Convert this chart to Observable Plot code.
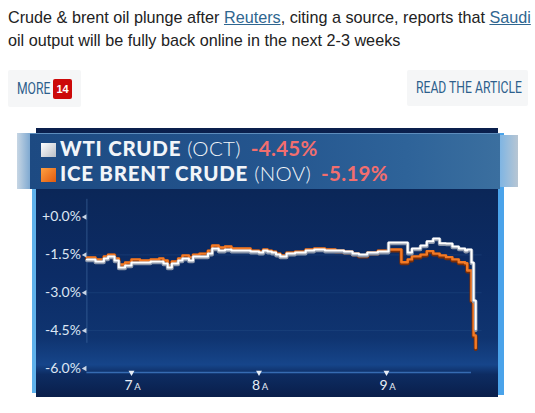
<!DOCTYPE html>
<html>
<head>
<meta charset="utf-8">
<script src="https://cdn.jsdelivr.net/npm/d3@7"></script>
<script src="https://cdn.jsdelivr.net/npm/@observablehq/plot@0.6"></script>
<style>
  html, body { margin: 0; padding: 0; background: #ffffff; }
  #page { position: relative; width: 535px; height: 413px; overflow: hidden; font-family: "Liberation Sans", Arial, sans-serif; }
  #headline { position: absolute; left: 8px; top: 6px; width: 525px; font-size: 16.2px; line-height: 23px; color: #222; }
  #headline a { color: #2f6690; text-decoration: underline; }
  .btn { position: absolute; background: #f5f6f7; border-radius: 2px; }
  .btn span.lbl { position: absolute; white-space: nowrap; font-family: Roboto, "Liberation Sans", sans-serif; color: #2d5f8c; font-size: 16px; transform: scaleX(0.76); transform-origin: 0 50%; }
  #badge { position: absolute; left: 45px; top: 9px; width: 19px; height: 20px; background: #cc0a0a; border-radius: 2px; color: #fff; font-family: "Liberation Sans", Arial, sans-serif; font-weight: bold; font-size: 11px; line-height: 20px; text-align: center; }
  #panel { position: absolute; left: 36px; top: 128px; width: 462px; height: 269px;
    background: linear-gradient(to bottom, #0a1f4c 0%, #0b2759 25%, #0c2c66 55%, #0f3470 78%, #16458a 88%, #0d2c62 91.5%, #0a1f4b 100%); }
  #lstrip { position: absolute; left: 32px; top: 188px; width: 4px; height: 205px; background: #5fb2ec; }
  #rstrip { position: absolute; left: 498px; top: 133px; width: 6px; height: 262px; background: #4aa3ea; }
  #banner { position: absolute; left: 30px; top: 133px; width: 470px; height: 56px;
    background: linear-gradient(to right, #1d4a82 0%, #24558e 50%, #2e6399 80%, #3b6f9f 100%);
    border-top: 1px solid #5d8dbd; box-sizing: border-box; }
  #lcap { position: absolute; left: 17px; top: 133px; width: 13px; height: 56px; background: linear-gradient(to right, #c7d6e4, #7fa9d1); }
  #rcap { position: absolute; left: 500px; top: 135px; width: 18px; height: 52px; background: linear-gradient(to right, #7fb5e3, #b8c6d3); }
  .bline { position: absolute; left: 41px; white-space: nowrap; font-family: Lato, "Open Sans", sans-serif; font-size: 20.5px; color: #f2f5f9; height: 24px; line-height: 24px; }
  .sq { display: inline-block; width: 15px; height: 14px; vertical-align: -1px; margin-right: 4px; }
  .b { font-weight: 900; letter-spacing: 0.75px; }
  .l { font-weight: 300; margin-left: 6px; letter-spacing: 0.3px; }
  .pct { font-weight: 700; color: #f26e6e; margin-left: 10px; letter-spacing: 0.3px; }
  #chart { position: absolute; left: 36px; top: 190px; }
</style>
</head>
<body>
<div id="page">
  <div id="headline">Crude &amp; brent oil plunge after <a>Reuters</a>, citing a source, reports that <a>Saudi</a> oil output will be fully back online in the next 2-3 weeks</div>
  <div class="btn" style="left:8px; top:70px; width:73px; height:37px;"><span class="lbl" style="left:9px; top:9px;">MORE</span><div id="badge">14</div></div>
  <div class="btn" style="left:407px; top:70px; width:121px; height:36px;"><span class="lbl" style="left:9px; top:8px;">READ THE ARTICLE</span></div>

  <div id="panel"></div>
  <div id="lstrip"></div>
  <div id="rstrip"></div>
  <div id="lcap"></div>
  <div id="banner"></div>
  <div id="rcap"></div>
  <div class="bline" style="top:136px;"><span class="sq" style="background:linear-gradient(135deg,#ffffff,#b9bec6);"></span><span class="b">WTI CRUDE</span><span class="l">(OCT)</span><span class="pct">-4.45%</span></div>
  <div class="bline" style="top:161px;"><span class="sq" style="background:linear-gradient(135deg,#ffa040,#e05a10);"></span><span class="b">ICE BRENT CRUDE</span><span class="l">(NOV)</span><span class="pct">-5.19%</span></div>
  <div id="chart"></div>
</div>
<script>
// ---- data (percent change) ----
const times = ["6:39","6:43","6:47","6:49","6:52","6:54","6:57","7:00","7:04","7:09",
               "7:13","7:15","7:17","7:19","7:22","7:24","7:27","7:29","7:32","7:36",
               "7:38","7:41","7:44","7:47","7:51","7:56","8:00","8:02","8:04","8:06",
               "8:08","8:10","8:13","8:17","8:22","8:26","8:31","8:36","8:40","8:44",
               "8:47","8:51","8:56","9:01","9:04","9:07","9:10","9:12","9:16","9:19",
               "9:22","9:25","9:28","9:31","9:34","9:37","9:38","9:40","9:41","9:42"];
const brent = [-1.60,-1.68,-1.56,-1.49,-1.64,-1.88,-1.80,-1.68,-1.72,-1.68,
               -1.64,-1.72,-1.92,-1.76,-1.64,-1.52,-1.60,-1.49,-1.45,-1.33,
               -1.13,-1.21,-1.17,-1.25,-1.25,-1.33,-1.37,-1.29,-1.33,-1.37,
               -1.45,-1.52,-1.41,-1.37,-1.29,-1.25,-1.29,-1.33,-1.37,-1.45,
               -1.52,-1.41,-1.33,-1.29,-1.29,-1.79,-1.68,-1.56,-1.49,-1.35,
               -1.45,-1.52,-1.59,-1.68,-1.79,-1.83,-2.12,-3.31,-4.69,-5.19];
const wti   = [-1.68,-1.76,-1.64,-1.56,-1.72,-2.00,-1.92,-1.80,-1.80,-1.76,
               -1.76,-1.84,-2.00,-1.84,-1.72,-1.64,-1.72,-1.56,-1.56,-1.45,
               -1.25,-1.33,-1.29,-1.33,-1.33,-1.37,-1.41,-1.33,-1.37,-1.41,
               -1.49,-1.56,-1.45,-1.41,-1.33,-1.29,-1.33,-1.33,-1.37,-1.45,
               -1.49,-1.41,-1.37,-1.01,-1.01,-1.01,-1.41,-1.25,-1.13,-0.96,
               -0.85,-1.04,-1.05,-1.17,-1.25,-1.33,-1.29,-1.80,-3.31,-4.45];
const yTicks = [0, -1.5, -3, -4.5, -6];
const yTickLabels = ["+0.0%", "-1.5%", "-3.0%", "-4.5%", "-6.0%"];
const xTickTimes = ["7:00", "8:00", "9:00"];
const xTickLabels = ["7", "8", "9"];
const xTickSuffix = "A";
const xDomain = ["6:39", "9:45"];

const parse = s => { const [h, m] = s.split(":").map(Number); return new Date(2019, 8, 17, h, m); };
const brentData = times.map((t, i) => ({t: parse(t), v: brent[i]}));
const wtiData = times.map((t, i) => ({t: parse(t), v: wti[i]}));
const x0 = parse(xDomain[0]);
const yT = yTicks.map((v, i) => ({v, label: yTickLabels[i]}));
const xT = xTickTimes.map((t, i) => ({t: parse(t), label: xTickLabels[i]}));

const chart = Plot.plot({
  width: 462, height: 207,
  marginLeft: 50.4, marginRight: 16.4, marginTop: 26.5, marginBottom: 29,
  style: {background: "transparent", overflow: "visible"},
  x: {type: "time", domain: xDomain.map(parse), axis: null},
  y: {domain: [-6, 0], axis: null},
  marks: [
    Plot.ruleY(yTicks.slice(1, 4), {x1: x0, x2: parse("9:45"), stroke: "#2a5590", strokeOpacity: 0.35, strokeWidth: 1}),
    Plot.ruleX([x0], {y1: 0.7, y2: -5, stroke: "#4a74ad", strokeOpacity: 0.55, strokeWidth: 1}),
    Plot.ruleY([-6], {x1: x0, x2: parse("9:40"), dy: 4, stroke: "#3d76c0", strokeWidth: 1.5, strokeOpacity: 0.85}),
    Plot.lineY(brentData, {x: "t", y: "v", curve: "step-after", stroke: "#7a2e08", strokeWidth: 4, dy: 1}),
    Plot.lineY(brentData, {x: "t", y: "v", curve: "step-after", stroke: "#f27a26", strokeWidth: 2.4}),
    Plot.lineY(wtiData, {x: "t", y: "v", curve: "step-after", stroke: "#8c97aa", strokeWidth: 3.6, dy: 1}),
    Plot.lineY(wtiData, {x: "t", y: "v", curve: "step-after", stroke: "#ffffff", strokeWidth: 2}),
    Plot.text(yT, {x: x0, y: "v", text: "label", textAnchor: "end", dx: -6, fill: "#dce6f3", fontSize: 14, fontFamily: "Lato, 'Open Sans', sans-serif"}),
    Plot.dot(yT, {x: x0, y: "v", symbol: "triangle", r: 2, rotate: -90, fill: "#c9d5e6", dx: -2}),
    Plot.dot(xT, {x: "t", y: -6, symbol: "triangle", r: 2.2, rotate: 180, fill: "#e6edf6", dy: 4}),
    Plot.text(xT, {x: "t", y: -6, text: "label", dy: 17, dx: -3, fill: "#e6edf6", fontSize: 14, fontFamily: "Lato, 'Open Sans', sans-serif"}),
    Plot.text(xT, {x: "t", y: -6, text: () => xTickSuffix, dy: 18, dx: 6, fill: "#e6edf6", fontSize: 9.5, fontFamily: "Lato, 'Open Sans', sans-serif"})
  ]
});
document.getElementById("chart").appendChild(chart);
</script>
</body>
</html>
